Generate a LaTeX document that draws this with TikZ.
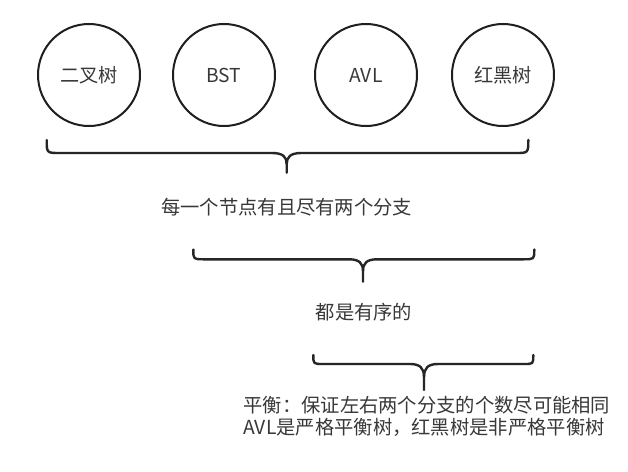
\documentclass[tikz,border=0pt]{standalone}
\usepackage{fontspec}
\setmainfont{Noto Sans CJK SC}
\begin{document}
\begin{tikzpicture}[x=1pt,y=-1pt,
  tree/.style={circle,draw=black!88,line width=2pt,minimum size=102pt,inner sep=0pt,
    font=\fontsize{19.2}{22}\selectfont,text=black!78},
  lbl/.style={font=\fontsize{19.3}{23}\selectfont,text=black!78,inner sep=0pt},
  brace/.style={draw=black!85,line width=2.4pt,line cap=round,line join=round}]
\fill[white] (0,0) rectangle (628,471);
\useasboundingbox (0,0) rectangle (628,471);
\node[tree] (bt)  at (89,75)  {二叉树};
\node[tree] (bst) at (224,75) {BST};
\node[tree] (avl) at (366,75) {AVL};
\node[tree] (rb)  at (503,75) {红黑树};
% brace 1
\coordinate (b1l) at (46.7,140); \coordinate (b1r) at (528.3,140); \coordinate (b1t) at (286.7,172.7);
\draw[brace] (b1l) .. controls (46.7,153) .. (60,153) -- (272,153)
  .. controls (283,153) and (286.7,157) .. (286.7,164) -- (b1t);
\draw[brace] (b1r) .. controls (528.3,153) .. (515,153) -- (301.4,153)
  .. controls (290.4,153) and (286.7,157) .. (286.7,164);
% brace 2
\coordinate (b2l) at (193.3,249.5); \coordinate (b2r) at (534.3,249.5); \coordinate (b2t) at (363,281.7);
\draw[brace] (b2l) .. controls (193.3,259.3) .. (204,259.3) -- (349,259.3)
  .. controls (359,259.3) and (363,263) .. (363,271) -- (b2t);
\draw[brace] (b2r) .. controls (534.3,259.3) .. (523,259.3) -- (377,259.3)
  .. controls (367,259.3) and (363,263) .. (363,271);
% brace 3
\coordinate (b3l) at (313.3,355); \coordinate (b3r) at (533.3,355); \coordinate (b3t) at (424,390);
\draw[brace] (b3l) .. controls (313.3,364) .. (323,364) -- (410,364)
  .. controls (420,364) and (424,368) .. (424,377) -- (b3t);
\draw[brace] (b3r) .. controls (533.3,364) .. (524,364) -- (438,364)
  .. controls (428,364) and (424,368) .. (424,377);
\node[lbl] (t1) at (286.7,206.7) {每一个节点有且尽有两个分支};
\node[lbl] (t2) at (364,311.7) {都是有序的};
\node[lbl,anchor=west] (t3a) at (243.3,405) {平衡：保证左右两个分支的个数尽可能相同};
\node[lbl,anchor=west] (t3b) at (243.3,427) {AVL是严格平衡树，红黑树是非严格平衡树};
\end{tikzpicture}
\end{document}
